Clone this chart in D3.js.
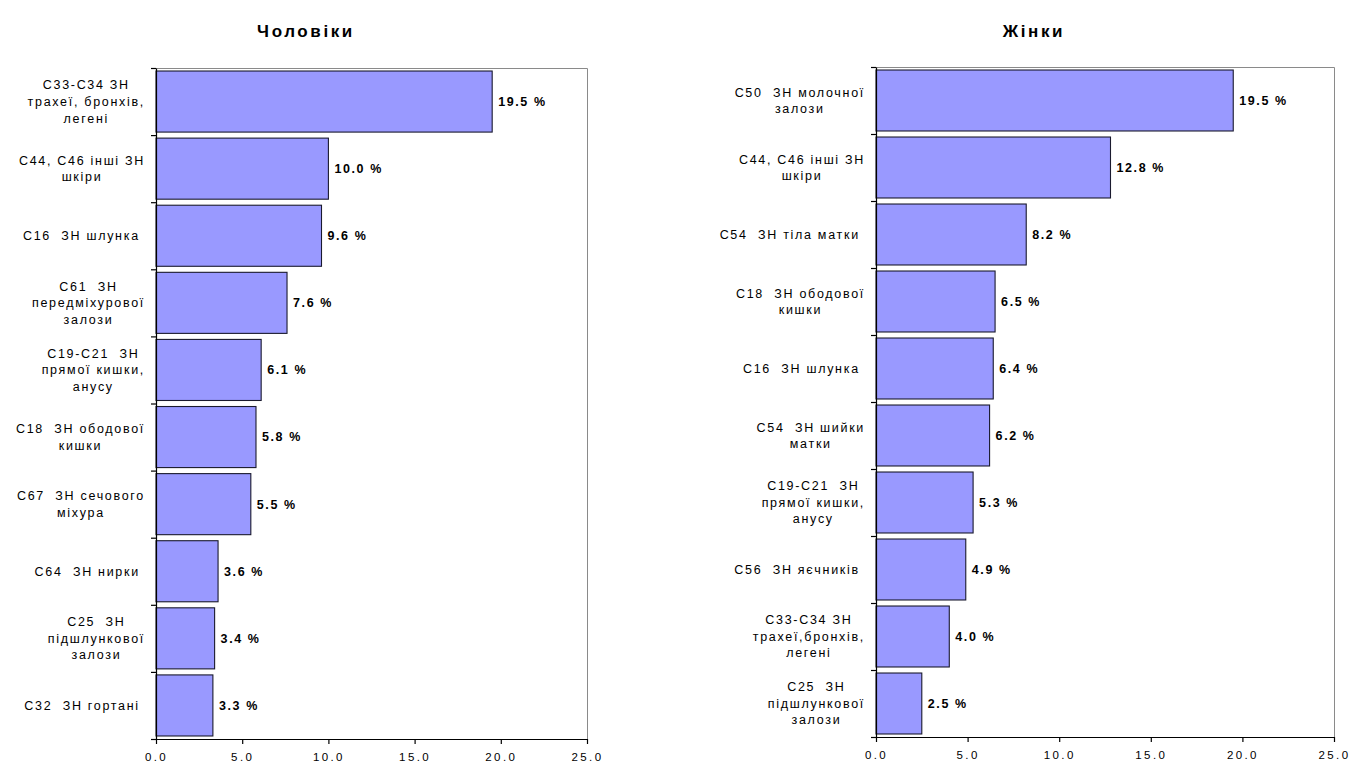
<!DOCTYPE html>
<html><head><meta charset="utf-8">
<script src="https://cdn.jsdelivr.net/npm/d3@7"></script>
<style>
body{margin:0;background:#fff;}
svg text{font-family:"Liberation Sans",Arial,sans-serif;}
</style></head>
<body><svg id="c" width="1351" height="767"></svg>
<script>
const menTitle = "Чоловіки";
const menCategories = [
  "C33-C34 ЗН\nтрахеї, бронхів,\nлегені",
  "C44, C46 інші ЗН\nшкіри",
  "C16  ЗН шлунка ",
  "C61  ЗН\nпередміхурової\nзалози",
  "C19-C21  ЗН\nпрямої кишки,\nанусу",
  "C18  ЗН ободової\nкишки",
  "C67  ЗН сечового\nміхура",
  "C64  ЗН нирки ",
  "C25  ЗН\nпідшлункової\nзалози",
  "C32  ЗН гортані "
];
const menValues = [19.5, 10.0, 9.6, 7.6, 6.1, 5.8, 5.5, 3.6, 3.4, 3.3];

const womenTitle = "Жінки";
const womenCategories = [
  "C50  ЗН молочної\nзалози",
  "C44, C46 інші ЗН\nшкіри",
  "C54  ЗН тіла матки ",
  "C18  ЗН ободової\nкишки",
  "C16  ЗН шлунка ",
  "C54  ЗН шийки\nматки",
  "C19-C21  ЗН\nпрямої кишки,\nанусу",
  "C56  ЗН яєчників ",
  "C33-C34 ЗН\nтрахеї,бронхів,\nлегені",
  "C25  ЗН\nпідшлункової\nзалози"
];
const womenValues = [19.5, 12.8, 8.2, 6.5, 6.4, 6.2, 5.3, 4.9, 4.0, 2.5];

const xTicks = [0, 5, 10, 15, 20, 25];

const svg = d3.select("#c");

function panel(cfg){
  const {title, cats, vals, x0, x1, y0, y1, titleX} = cfg;
  const g = svg.append("g");
  const x = d3.scaleLinear().domain([0,25]).range([x0,x1]);
  const y = d3.scaleBand().domain(cats).range([y0,y1]).paddingInner(0.09).paddingOuter(0.045);
  const yi = d3.scaleLinear().domain([0,cats.length]).range([y0,y1]);

  g.append("path").attr("d",`M${x0},${y0+0.5}H${x1+0.5}V${y1}`)
    .attr("fill","none").attr("stroke","#8a8a8a").attr("stroke-width",1);

  g.selectAll("rect.bar").data(cats).enter().append("rect")
    .attr("x", x(0)).attr("y", d=>y(d))
    .attr("width", (d,i)=>x(vals[i])-x(0)).attr("height", y.bandwidth())
    .attr("fill","#9999ff").attr("stroke","#1a1a2e").attr("stroke-width",1.1);

  g.selectAll("text.val").data(cats).enter().append("text")
    .attr("x",(d,i)=>x(vals[i])+6).attr("y",d=>y(d)+y.bandwidth()/2)
    .attr("dy","0.35em").attr("font-size","12.5px").attr("font-weight","bold")
    .style("letter-spacing","1.6px").attr("fill","#000")
    .text((d,i)=>d3.format(".1f")(vals[i])+" %");

  const ya = g.append("g").attr("transform",`translate(${x0},0)`)
    .call(d3.axisLeft(yi).tickValues(d3.range(cats.length+1)).tickFormat("").tickSize(5).tickSizeOuter(0));
  ya.selectAll("path,line").attr("stroke","#000").attr("stroke-width",1.2);

  const xa = g.append("g").attr("transform",`translate(0,${y1})`)
    .call(d3.axisBottom(x).tickValues(xTicks).tickFormat(d3.format(".1f")).tickSize(5).tickSizeOuter(0));
  xa.selectAll("path,line").attr("stroke","#000").attr("stroke-width",1.2);
  xa.selectAll("text").attr("font-size","11.5px").attr("fill","#000")
    .style("letter-spacing","2.4px").attr("dy","1.2em")
    .style("font-family","'Liberation Sans',Arial,sans-serif");

  const lh = 16.6;
  cats.forEach(c=>{
    const lines = c.split("\n");
    const cy = y(c)+y.bandwidth()/2;
    const tg = g.append("g");
    const ts = lines.map((ln,j)=> tg.append("text")
      .attr("y", cy + (j-(lines.length-1)/2)*lh).attr("dy","0.35em")
      .attr("font-size","12.5px").attr("fill","#000")
      .style("letter-spacing","1.7px").style("white-space","pre")
      .text(ln));
    const ws = ts.map(t=>t.node().getComputedTextLength());
    const mw = d3.max(ws);
    const right = x0 - 11;
    const center = right - mw/2;
    ts.forEach(t=>t.attr("x",center).attr("text-anchor","middle"));
  });

  svg.append("text").attr("x",titleX).attr("y",37)
    .attr("text-anchor","middle").attr("font-size","17px").attr("font-weight","bold")
    .style("letter-spacing","2.6px").text(title);
}

panel({title:menTitle, cats:menCategories, vals:menValues, x0:156, x1:587, y0:68, y1:739, titleX:306});
panel({title:womenTitle, cats:womenCategories, vals:womenValues, x0:876, x1:1334, y0:67, y1:737, titleX:1034});
</script></body></html>
